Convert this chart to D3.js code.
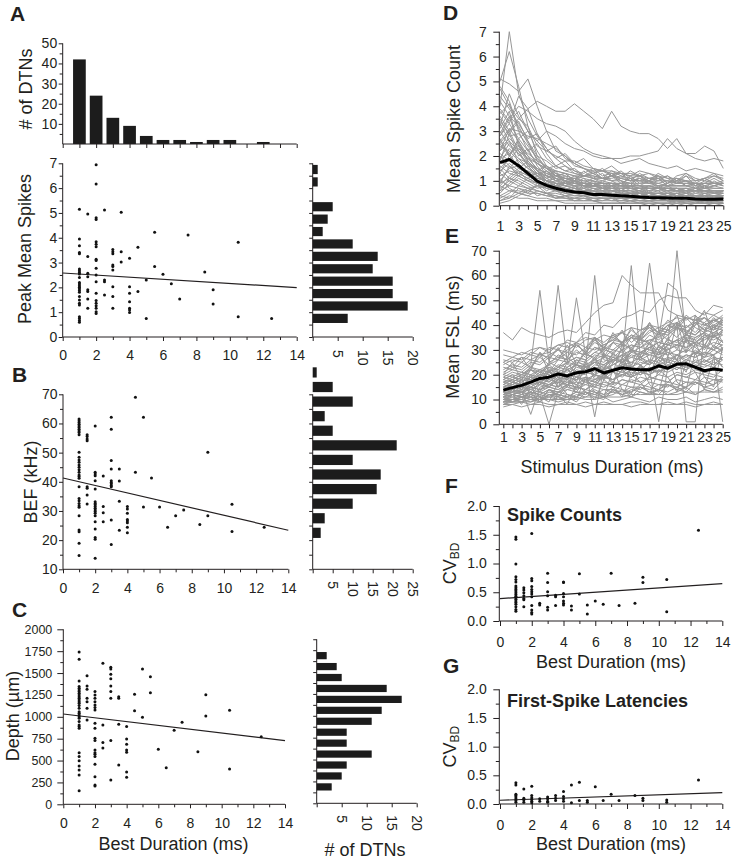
<!DOCTYPE html>
<html><head><meta charset="utf-8">
<script src="https://cdn.jsdelivr.net/npm/d3@7"></script>
<style>
body{margin:0;background:#fff;}
svg{display:block;font-family:"Liberation Sans",Arial,Helvetica,sans-serif;}
</style></head><body>
<svg id="fig" width="736" height="861"></svg>
<script>
// ---------------- DATA ----------------
// A: histogram of best durations
const bdBins = [1,2,3,4,5,6,7,8,9,10,11,12];
const bdCounts = [42,24,13,9,4,2,2,1,2,2,0,1];
// A: side histogram of peak mean spikes (bin centres)
const peakBins = [0.75,1.25,1.75,2.25,2.75,3.25,3.75,4.25,4.75,5.25,5.75,6.25,6.75];
const peakCounts = [7,19,16,16,12,13,8,2,3,4,0,1,1];
// B: side histogram of BEF
const befBins = [12.5,17.5,22.5,27.5,32.5,37.5,42.5,47.5,52.5,57.5,62.5,67.5];
const befCounts = [2,3,10,16,17,10,21,5,3,10,5,1];
// C: side histogram of depth
const depthBins = [187.5,312.5,437.5,562.5,687.5,812.5,937.5,1062.5,1187.5,1312.5,1437.5,1562.5,1687.5];
const depthCounts = [3,5,6,11,6,6,11,13,17,14,5,4,2];

// scatter data grouped by best duration: [duration, [values]]
const scatterA = [
 [1,[5.15,3.95,3.68,3.41,3.35,2.74,2.67,2.6,2.54,2.4,2.2,2.14,2.07,2.0,1.94,1.87,1.8,1.63,1.49,1.36,1.29,0.82,0.75,0.66,0.59]],
 [1.5,[4.96,3.24,2.57,2.43,1.9,1.83,1.53,1.16]],
 [2,[6.94,6.17,4.81,4.74,3.84,3.74,3.64,3.13,3.08,2.77,2.5,2.23,1.76,1.47,1.36,1.26,1.16,1.02,0.95]],
 [2.5,[5.12,2.3,2.23,1.69]],
 [3,[3.53,3.44,3.35,2.9,2.84,2.7,2.03,1.63,1.16]],
 [3.5,[5.03,3.44,3.02]],
 [4,[3.17,2.03,1.76,1.42,1.16,1.09,0.99]],
 [4.5,[3.62,1.83]],[5,[2.3,0.75]],[5.5,[4.22,2.84]],[6,[2.53]],[6.5,[2.15]],[7,[1.53]],
 [7.5,[4.11]],[8.5,[2.62]],[9,[1.9,1.33]],[10.5,[3.82,0.82]],[12.5,[0.75]]
];
const scatterB = [
 [1,[61.5,60.9,60.3,59.7,59.1,58.6,58,57.4,56.9,56.1,50.1,48.4,47.5,46.7,45.8,45,44.1,43.3,42.3,41.8,41.2,38.3,34.3,33.5,32.6,31.8,31.3,28.4,23.5,22.9,18.9,14.7]],
 [1.5,[56.1,55.5,54.7,54.1,38.3,37.8,35.5,32.4]],
 [2,[59.1,43.3,42.7,42.1,40.4,37.5,33.2,32.6,32.1,31.5,30.9,30.3,29.8,29.2,28.4,26.3,23.8,20.9,20.3,13.8]],
 [2.5,[42,31.5,29.4,26.3]],
 [3,[62.1,58,47.3,44.4,40.4,39.8,39.3,38.7,38.3,26.9,18.5]],
 [3.5,[44.4,40.3,33.3,23.4]],
 [4,[31.5,30.7,29.2,27.1,26.6,26,24.4,22.5]],
 [4.5,[69,43.3]],[5,[62.1,31.4]],[5.5,[41.3]],[6,[31.4]],[6.5,[24.4]],[7,[28.4]],
 [7.5,[30.3]],[8.5,[25.4]],[9,[50.1,28.4]],[10.5,[32.3,23]],[12.5,[24.4]]
];
const scatterC = [
 [1,[1741,1657,1410,1345,1326,1307,1288,1269,1250,1230,1211,1192,1173,1154,1128,1097,1059,1040,1021,1002,983,945,907,888,869,590,545,499,438,392,335,156]],
 [1.5,[1470,1352,1314,1211,1173,1097,964]],
 [2,[1288,1250,1211,1173,1135,1105,1078,926,869,754,728,621,590,571,545,457,316,221,210]],
 [2.5,[1611,907,705,644]],
 [3,[1566,1547,1486,1434,1352,1288,1211,728,278]],
 [3.5,[1230,1211,914,450]],
 [4,[888,747,686,621,594,370,309]],
 [4.5,[1257,1070]],[5,[1547,994]],[5.5,[1459,1276]],[6,[629]],[6.5,[419]],[7,[846]],
 [7.5,[937]],[8.5,[602]],[9,[1253,1010]],[10.5,[1074,404]],[12.5,[773]]
];
const scatterF = [
 [1,[1.46,1.42,0.99,0.77,0.72,0.68,0.61,0.58,0.55,0.52,0.49,0.46,0.43,0.41,0.38,0.35,0.32,0.29,0.25,0.2,0.17]],
 [1.5,[0.58,0.54,0.49,0.44,0.39,0.37,0.25]],
 [2,[1.52,0.74,0.7,0.6,0.55,0.51,0.47,0.42,0.27,0.19,0.15,0.12]],
 [2.5,[0.31,0.28]],
 [3,[0.83,0.67,0.51,0.44,0.24,0.19]],
 [3.5,[0.45,0.42,0.27]],
 [4,[0.68,0.67,0.48,0.42,0.35,0.31,0.28]],
 [4.5,[0.26,0.19]],[5,[0.82,0.47]],[5.5,[0.28,0.12]],[6,[0.35]],[6.5,[0.29]],[7,[0.83]],
 [7.5,[0.27]],[8.5,[0.31]],[9,[0.76,0.67]],[10.5,[0.72,0.16]],[12.5,[1.58]]
];
const scatterG = [
 [1,[0.37,0.33,0.17,0.15,0.12,0.09,0.06,0.03]],
 [1.5,[0.26,0.1,0.07,0.03]],
 [2,[0.31,0.15,0.11,0.08,0.05,0.02]],
 [2.5,[0.09,0.05]],
 [3,[0.12,0.09,0.05,0.03]],
 [3.5,[0.15,0.1,0.06]],
 [4,[0.22,0.13,0.09,0.05]],
 [4.5,[0.33,0.02]],[5,[0.38,0.06]],[5.5,[0.06,0.03]],[6,[0.3]],[6.5,[0.06]],[7,[0.17]],
 [7.5,[0.06]],[8.5,[0.15]],[9,[0.1,0.06]],[10.5,[0.07,0.03]],[12.5,[0.42]]
];
// regression line end points [[x0,y0],[x1,y1]]
const fitA = [[0,2.58],[14,1.99]];
const fitB = [[0,41.3],[14,23.4]];
const fitC = [[0,1032],[14,728]];
const fitF = [[0,0.39],[14,0.65]];
const fitG = [[0,0.065],[14,0.2]];

// D/E: stimulus durations and per-neuron curves
const stimDur = [1,2,3,4,5,6,7,8,9,10,11,12,13,14,15,16,17,18,19,20,21,22,23,24,25];
const meanSpikeCount = [1.73,1.86,1.61,1.3,0.99,0.82,0.7,0.61,0.55,0.52,0.45,0.45,0.42,0.4,0.38,0.35,0.33,0.32,0.31,0.3,0.3,0.27,0.26,0.26,0.27];
const meanFSL = [13.8,14.8,15.7,17,18.5,19,20.3,19.5,20.8,21.2,22.4,20.7,21.8,22.8,22.3,22,22,23.6,22.6,24.3,24.4,23,21.6,22.3,21.8];
const spikeCountCurves = [
 [2.5,3.0,3.5,3.9,4.2,4.0,3.8,3.8,4.1,3.8,3.5,3.1,3.8,3.2,3.0,2.9,2.9,2.7,2.3,2.7,2.1,2.1,2.4,2.2,1.5],
 [4.0,7.0,4.5,3.5,2.8,2.3,1.9,1.6,1.4,1.2,1.1,1.0,0.9,0.9,0.8,0.8,0.7,0.7,0.7,0.6,0.6,0.6,0.5,0.6,0.5],
 [5.0,6.2,4.8,3.2,2.0,1.5,1.2,1.0,0.9,0.8,0.8,0.7,0.6,0.6,0.6,0.5,0.5,0.5,0.5,0.4,0.4,0.4,0.4,0.4,0.3],
 [5.1,4.9,4.6,5.1,4.0,3.0,2.2,2.0,1.7,1.5,1.3,1.4,1.2,1.1,1.0,1.0,0.9,0.9,0.8,0.8,0.8,0.8,0.7,0.7,0.7],
 [2.8,3.5,4.0,3.8,3.5,3.3,3.2,3.0,2.6,2.3,2.1,2.0,1.9,1.9,2.0,2.0,2.1,2.2,2.7,2.3,2.1,1.9,1.8,1.9,1.8],
 [3.2,4.5,3.6,3.0,2.6,3.0,2.8,2.5,2.3,2.2,2.0,1.9,1.9,1.7,1.8,1.9,1.7,1.6,1.5,1.6,1.4,1.5,1.4,1.3,1.2],
 [4.7,4.0,3.5,3.2,2.4,2.2,2.0,1.8,1.8,1.6,1.5,1.4,1.4,1.3,1.3,1.2,1.3,1.2,1.1,1.1,1.0,1.0,1.1,0.9,0.9],
 [3.8,3.3,4.4,3.9,2.9,2.1,1.6,1.4,1.3,1.2,1.2,1.1,1.0,1.0,0.9,0.9,0.9,0.8,0.8,0.8,0.8,0.7,0.7,0.8,0.7],
 [2.6,3.1,3.0,2.8,2.7,2.5,2.3,2.0,1.6,1.5,1.4,1.4,1.3,1.3,1.2,1.2,1.1,1.1,1.0,1.0,1.0,0.9,0.9,0.9,0.9],
 [4.2,3.6,2.5,1.8,1.4,1.2,1.0,0.9,0.8,0.8,0.7,0.7,0.6,0.6,0.6,0.5,0.5,0.5,0.5,0.5,0.4,0.4,0.4,0.4,0.4],
 [3.5,2.8,2.9,2.4,1.9,1.5,1.3,1.2,1.1,1.0,0.9,0.9,0.9,0.8,0.8,0.8,0.7,0.7,0.7,0.7,0.6,0.6,0.6,0.6,0.6],
 [3.0,2.4,2.1,1.7,1.3,1.1,0.9,0.8,0.7,0.6,0.6,0.5,0.5,0.4,0.4,0.4,0.4,0.3,0.3,0.3,0.3,0.3,0.3,0.2,0.3],
 [2.2,3.1,2.6,2.0,1.4,1.0,0.8,0.7,0.6,0.5,0.5,0.4,0.4,0.4,0.3,0.3,0.3,0.3,0.3,0.2,0.2,0.2,0.2,0.2,0.2],
 [1.8,2.9,3.4,2.6,1.8,1.2,1.0,0.8,0.7,0.6,0.6,0.5,0.5,0.5,0.4,0.4,0.4,0.4,0.3,0.3,0.3,0.3,0.3,0.3,0.3],
 [2.4,2.2,1.8,1.5,1.2,1.0,0.8,0.7,0.6,0.5,0.5,0.5,0.4,0.4,0.4,0.3,0.3,0.3,0.3,0.3,0.3,0.2,0.2,0.2,0.2],
 [1.5,1.9,1.6,1.3,1.0,0.8,0.6,0.5,0.4,0.4,0.3,0.3,0.3,0.3,0.2,0.2,0.2,0.2,0.2,0.2,0.2,0.1,0.2,0.1,0.1],
 [1.2,1.4,1.3,1.1,0.9,0.7,0.6,0.5,0.5,0.4,0.4,0.3,0.3,0.3,0.3,0.2,0.2,0.2,0.2,0.2,0.2,0.2,0.2,0.2,0.2],
 [0.9,1.1,1.0,0.8,0.6,0.5,0.4,0.3,0.3,0.3,0.2,0.2,0.2,0.2,0.2,0.1,0.1,0.1,0.1,0.1,0.1,0.1,0.1,0.1,0.1],
 [0.6,0.8,0.7,0.6,0.5,0.4,0.3,0.3,0.2,0.2,0.2,0.1,0.1,0.1,0.1,0.1,0.1,0.1,0.1,0.0,0.1,0.0,0.0,0.1,0.0],
 [2.0,1.6,1.3,1.1,0.9,0.8,0.7,0.7,0.6,0.6,0.6,0.5,0.6,0.5,0.5,0.5,0.5,0.4,0.5,0.4,0.4,0.4,0.4,0.4,0.4],
 [1.0,1.5,1.9,1.7,1.3,1.0,0.9,0.8,0.7,0.7,0.6,0.6,0.6,0.5,0.5,0.5,0.5,0.5,0.4,0.4,0.4,0.4,0.4,0.4,0.4],
 [0.3,0.5,0.8,1.1,1.3,1.2,1.1,1.0,0.9,0.9,0.8,0.8,0.7,0.7,0.7,0.6,0.6,0.6,0.6,0.6,0.5,0.5,0.5,0.5,0.5],
 [0.1,0.2,0.4,0.6,0.8,0.9,1.0,1.1,1.1,1.2,1.2,1.1,1.1,1.2,1.1,1.0,1.1,1.0,1.0,0.9,0.9,0.9,0.9,0.9,0.9],
 [1.6,1.3,1.2,1.0,0.9,0.9,0.8,0.8,0.8,0.7,0.8,0.7,0.7,0.7,0.7,0.7,0.6,0.7,0.6,0.6,0.6,0.6,0.6,0.5,0.6],
 [2.7,2.0,1.5,1.3,1.1,1.0,0.9,0.9,0.9,0.8,0.8,0.8,0.8,0.7,0.7,0.7,0.7,0.7,0.7,0.7,0.6,0.6,0.6,0.6,0.6],
 [0.4,0.6,0.6,0.5,0.5,0.4,0.4,0.3,0.3,0.3,0.3,0.3,0.2,0.2,0.2,0.2,0.2,0.2,0.2,0.2,0.1,0.1,0.1,0.1,0.1],
 [2.9,3.6,3.2,2.5,1.9,1.5,1.2,1.0,0.9,0.8,0.7,0.6,0.6,0.5,0.5,0.5,0.4,0.4,0.4,0.4,0.3,0.3,0.3,0.3,0.3],
 [3.3,2.6,2.2,1.9,1.7,1.5,1.4,1.3,1.2,1.2,1.1,1.1,1.0,1.1,1.0,1.0,1.0,0.9,1.0,0.9,0.9,0.9,0.8,0.9,0.8],
 [1.3,1.0,0.8,0.7,0.6,0.5,0.5,0.4,0.4,0.4,0.3,0.3,0.3,0.3,0.3,0.3,0.2,0.3,0.2,0.2,0.2,0.2,0.2,0.2,0.2],
 [0.8,1.2,1.5,1.4,1.2,1.0,0.8,0.7,0.6,0.5,0.5,0.4,0.4,0.4,0.4,0.3,0.3,0.3,0.3,0.3,0.3,0.3,0.3,0.3,0.3],
 [0.2,0.4,0.3,0.3,0.2,0.2,0.2,0.1,0.1,0.1,0.1,0.1,0.1,0.1,0.1,0.1,0.0,0.1,0.0,0.0,0.0,0.0,0.0,0.0,0.0],
 [1.9,2.5,2.1,1.6,1.2,0.9,0.7,0.6,0.5,0.5,0.4,0.4,0.4,0.3,0.3,0.3,0.3,0.3,0.2,0.2,0.2,0.2,0.2,0.2,0.2],
 [3.9,3.4,3.8,3.0,2.2,1.6,1.3,1.1,1.0,0.9,0.8,0.7,0.7,0.6,0.6,0.6,0.5,0.5,0.5,0.5,0.5,0.4,0.4,0.4,0.4],
 [2.3,2.7,2.4,2.1,1.8,1.6,1.4,1.3,1.2,1.1,1.0,0.9,0.9,0.8,0.8,0.8,0.8,0.7,0.7,0.7,0.7,0.7,0.6,0.6,0.6],
 [0.5,0.9,1.2,1.0,0.8,0.7,0.6,0.6,0.5,0.5,0.5,0.4,0.4,0.4,0.4,0.4,0.4,0.4,0.3,0.3,0.3,0.3,0.3,0.3,0.3],
 [1.1,0.7,0.5,0.4,0.3,0.3,0.2,0.2,0.2,0.2,0.2,0.1,0.1,0.1,0.1,0.1,0.1,0.1,0.1,0.1,0.1,0.1,0.1,0.1,0.1],
 [2.1,1.8,2.3,1.9,1.5,1.3,1.1,1.0,1.0,0.9,0.9,0.9,0.8,0.8,0.8,0.7,0.8,0.7,0.7,0.7,0.7,0.6,0.7,0.6,0.6],
 [3.7,4.1,3.0,2.2,1.7,1.4,1.2,1.1,1.0,0.9,0.9,0.8,0.8,0.8,0.7,0.7,0.7,0.7,0.6,0.6,0.6,0.6,0.6,0.5,0.5],
 [1.4,1.7,1.4,1.2,1.1,1.0,0.9,0.9,0.8,0.8,0.8,0.8,0.7,0.8,0.7,0.7,0.7,0.7,0.7,0.6,0.7,0.6,0.6,0.6,0.6],
 [0.7,1.0,1.3,1.6,1.5,1.3,1.2,1.1,1.0,1.0,1.0,0.9,0.9,0.9,0.9,0.8,0.8,0.8,0.8,0.8,0.8,0.7,0.8,0.7,0.7],
 [1.7,2.3,1.9,1.5,1.3,1.4,1.0,1.2,0.9,1.1,0.8,1.0,1.2,0.9,1.1,0.8,1.0,0.7,0.9,1.1,0.8,0.9,0.7,1.0,0.8],
 [2.5,2.0,2.6,1.8,1.4,1.6,1.2,1.3,1.0,1.4,1.1,0.9,1.3,1.0,0.8,1.2,0.9,1.1,0.8,1.0,1.2,0.8,0.9,1.1,0.9],
 [0.9,1.6,1.2,1.4,1.0,0.7,0.9,0.6,0.8,0.5,0.7,0.6,0.4,0.7,0.5,0.6,0.4,0.5,0.6,0.4,0.5,0.3,0.5,0.4,0.5],
 [3.4,2.9,2.0,2.3,1.6,1.2,1.4,0.9,1.1,0.8,1.0,0.7,0.9,0.6,0.8,0.7,0.5,0.8,0.6,0.7,0.5,0.6,0.8,0.5,0.6],
 [1.3,2.0,2.7,2.2,2.5,1.9,1.6,1.8,1.4,1.3,1.5,1.2,1.3,1.1,1.4,1.2,1.0,1.3,1.1,0.9,1.2,1.0,1.1,1.3,1.0],
 [0.4,0.3,0.7,0.5,0.9,0.6,0.8,0.5,0.7,0.6,0.4,0.6,0.5,0.3,0.5,0.4,0.6,0.3,0.4,0.5,0.3,0.4,0.2,0.4,0.3],
 [4.4,3.9,3.3,2.7,2.9,2.3,1.9,2.1,1.7,1.5,1.3,1.5,1.2,1.4,1.1,1.2,1.0,1.2,0.9,1.1,1.0,0.9,1.1,0.9,1.0],
 [2.8,3.3,2.7,3.0,2.6,2.2,2.4,1.9,1.7,1.9,1.5,1.4,1.6,1.3,1.2,1.4,1.3,1.1,1.2,1.0,1.3,1.1,1.0,1.2,1.1],
 [0.6,1.1,0.9,0.7,0.8,0.5,0.6,0.4,0.5,0.6,0.4,0.5,0.3,0.4,0.5,0.3,0.4,0.3,0.2,0.4,0.3,0.2,0.3,0.2,0.3],
 [1.8,1.5,1.6,1.2,1.3,1.0,1.1,0.9,1.0,0.8,0.9,0.7,0.8,0.9,0.7,0.6,0.8,0.7,0.5,0.6,0.7,0.5,0.6,0.5,0.4],
 [2.2,2.6,1.7,1.3,0.9,0.8,0.9,0.6,0.7,0.5,0.6,0.4,0.5,0.4,0.3,0.5,0.4,0.3,0.4,0.3,0.2,0.3,0.4,0.2,0.3],
 [3.1,3.8,2.4,1.7,1.5,1.1,1.3,1.0,1.2,0.9,1.1,1.3,1.0,0.8,1.2,0.9,1.0,1.1,0.8,0.9,1.0,0.7,0.9,0.8,0.9],
 [0.2,0.3,0.5,0.4,0.6,0.5,0.3,0.4,0.2,0.3,0.2,0.2,0.3,0.1,0.2,0.1,0.2,0.1,0.1,0.2,0.1,0.1,0.1,0.1,0.1],
 [1.5,1.1,1.4,1.0,1.2,0.9,0.7,1.0,0.8,0.6,0.8,0.9,0.6,0.7,0.8,0.5,0.7,0.6,0.8,0.6,0.5,0.7,0.6,0.5,0.6],
 [4.8,4.2,3.1,2.6,2.0,1.8,1.5,1.6,1.3,1.2,1.4,1.1,1.2,1.0,0.9,1.1,1.0,0.8,0.9,1.0,0.8,0.9,0.7,0.8,0.9],
 [2.6,2.1,1.5,1.8,1.4,1.1,1.2,1.3,1.0,1.2,1.3,1.1,1.4,1.2,1.0,1.3,1.1,1.2,0.9,1.2,1.3,1.0,1.1,1.2,1.0],
 [1.0,0.8,1.1,0.9,0.7,0.8,0.6,0.7,0.5,0.6,0.7,0.5,0.4,0.6,0.5,0.4,0.5,0.3,0.4,0.5,0.4,0.3,0.4,0.3,0.4],
 [3.6,3.0,2.2,1.6,1.2,1.4,1.1,0.8,1.0,0.7,0.9,0.6,0.8,0.5,0.7,0.6,0.5,0.6,0.4,0.5,0.6,0.4,0.5,0.3,0.4],
 [1.9,2.1,2.4,2.0,1.7,1.5,1.6,1.4,1.5,1.2,1.3,1.1,1.2,1.3,1.0,1.1,0.9,1.0,1.2,0.9,1.0,0.8,1.0,0.9,0.8],
 [0.8,0.6,0.5,0.7,0.4,0.5,0.3,0.4,0.3,0.4,0.2,0.3,0.3,0.2,0.3,0.2,0.2,0.3,0.2,0.1,0.2,0.2,0.1,0.2,0.1]
];
const fslCurves = [
 [37,34,39,37,36,35,37,38,37,41,45,48,49,60,56,53,53,53,46,44,43,42,41,44,42],
 [24,26,25,28,27,31,30,34,33,37,36,40,39,43,44,46,45,50,52,51,51,46,44,48,47],
 [20,22,21,24,54,25,27,26,29,28,31,30,33,32,35,34,33,37,36,39,38,36,40,39,41],
 [18,20,19,23,21,24,56,25,27,26,29,28,27,30,32,31,33,30,34,33,36,34,37,35,38],
 [15,17,16,18,20,19,22,21,24,23,60,26,25,28,27,29,28,31,30,32,31,33,32,30,34],
 [12,14,13,16,17,16,19,18,21,20,23,22,24,26,64,27,25,29,28,30,29,32,31,33,32],
 [21,23,22,25,24,27,26,29,28,31,30,32,34,33,36,35,65,38,37,40,39,41,40,42,43],
 [16,18,17,20,19,22,21,23,25,24,26,25,28,27,30,29,31,33,32,70,34,33,36,35,37],
 [19,21,20,23,22,24,26,25,51,28,27,30,29,32,31,33,34,35,57,54,37,36,39,38,40],
 [10,11,12,13,12,0,13,14,15,14,16,15,17,16,18,17,19,18,17,20,19,21,20,19,22],
 [13,12,14,4,15,16,15,17,16,18,17,19,18,20,19,21,20,22,21,23,22,24,23,25,24],
 [14,15,16,17,18,19,18,20,21,22,3,23,22,24,25,24,26,25,27,26,28,27,29,28,30],
 [11,12,13,12,14,15,14,16,17,16,18,19,18,20,21,20,22,1,23,24,23,25,24,26,27],
 [17,18,20,19,22,21,24,23,26,25,28,27,30,29,32,31,34,33,36,40,1,1,38,37,39],
 [12,13,14,15,14,16,17,16,18,19,18,20,21,20,22,23,22,24,25,24,26,25,27,28,1],
 [8,8,9,8,9,8,8,9,8,9,8,9,8,8,9,9,8,8,9,8,9,8,8,9,8],
 [9,10,10,9,11,10,9,10,11,10,10,11,9,10,11,10,9,11,10,10,11,9,10,11,10],
 [10,12,11,12,11,13,12,11,13,12,14,12,13,12,14,13,12,14,13,15,13,12,14,13,15],
 [9,9,10,11,10,12,11,10,12,11,13,11,12,14,11,13,12,14,12,13,15,12,14,13,14],
 [7,8,7,8,8,7,8,8,8,7,8,8,8,8,7,8,8,8,8,8,8,7,8,8,8],
 [11,13,12,15,14,16,15,18,16,19,17,20,18,22,19,21,23,20,24,22,25,23,26,24,27],
 [13,14,16,15,18,17,20,19,22,21,24,23,26,25,28,27,30,29,32,31,34,33,36,35,38],
 [22,24,23,26,25,28,30,27,32,29,34,31,36,33,38,35,40,37,42,39,44,41,43,40,42],
 [26,25,27,26,28,29,27,30,32,29,33,31,35,33,36,34,38,36,40,39,37,41,38,40,39],
 [17,19,18,22,20,25,23,27,24,29,26,31,28,33,30,35,32,37,34,39,36,41,38,43,40],
 [15,16,18,17,20,19,21,20,23,22,25,24,27,26,29,28,31,30,33,32,35,34,30,36,33],
 [14,15,14,17,16,18,17,19,18,21,20,22,21,24,23,25,24,27,26,28,27,29,28,31,30],
 [12,13,15,14,16,15,18,17,19,18,20,19,22,21,23,22,25,24,26,25,28,27,29,28,31],
 [10,12,11,13,12,14,13,16,15,17,16,19,18,20,19,21,20,23,22,24,23,26,25,27,26],
 [16,15,17,19,18,21,20,22,24,23,25,27,26,28,30,29,31,33,32,34,36,35,37,39,38],
 [19,18,20,22,21,20,23,25,24,22,26,28,27,25,29,31,30,28,32,34,33,31,35,37,36],
 [11,12,11,13,12,14,13,15,14,16,15,17,16,18,17,19,18,20,19,21,20,22,21,23,22],
 [25,27,26,29,28,27,30,29,33,31,35,32,34,37,33,36,39,35,38,41,37,40,43,39,42],
 [9,10,11,10,12,11,13,12,11,14,13,12,15,14,13,16,15,14,17,16,15,18,17,16,19],
 [18,17,19,18,20,21,19,22,20,23,21,24,22,25,23,26,24,27,25,28,26,29,27,30,28],
 [28,27,29,28,31,30,32,31,33,35,34,36,35,37,39,38,40,39,41,43,42,44,40,42,41],
 [13,12,13,14,13,15,14,16,15,14,17,16,15,18,17,16,19,18,17,20,19,18,21,20,19],
 [20,19,21,20,22,21,23,22,24,23,25,24,26,25,27,26,28,27,29,28,30,29,31,30,32],
 [8,9,9,10,10,11,10,12,11,13,12,11,14,12,13,15,13,14,16,14,15,17,15,16,18],
 [23,22,25,23,27,24,28,26,30,27,31,29,33,30,35,32,36,34,38,35,40,37,41,38,43],
 [14,16,15,17,19,17,20,22,19,23,25,21,26,28,24,29,31,26,32,34,29,35,37,31,38],
 [10,10,11,11,10,12,12,11,13,13,12,14,14,13,15,15,14,16,16,15,17,17,16,18,18],
 [17,16,18,17,19,18,20,19,18,21,20,19,22,21,20,23,22,21,24,23,22,25,24,23,26],
 [12,14,13,15,17,16,18,20,19,21,23,22,24,26,25,27,29,28,30,32,31,33,35,34,36],
 [30,29,28,30,31,29,32,33,31,34,35,33,36,37,35,38,39,37,40,41,39,42,43,41,44],
 [9,9,9,9,10,10,10,10,10,11,11,11,11,11,12,12,12,12,12,12,13,13,13,13,13],
 [11,10,12,11,13,12,11,14,13,12,15,14,13,16,15,14,17,16,15,18,17,16,19,18,17],
 [15,17,19,18,21,23,22,25,27,26,29,31,30,33,35,34,37,39,38,41,43,42,45,44,46],
 [14,13,18,12,16,22,15,19,14,25,18,21,16,27,20,24,19,30,22,26,21,33,25,28,23],
 [9,12,8,15,11,9,17,12,10,19,13,11,22,14,12,24,16,13,27,17,14,29,19,15,31],
 [20,25,18,23,29,21,26,32,24,30,35,27,33,38,29,36,41,31,39,44,33,40,46,35,42],
 [12,11,10,13,9,14,12,8,16,13,10,18,15,11,20,17,12,22,19,13,25,21,14,27,23],
 [16,18,14,20,17,23,19,15,24,21,27,18,25,30,22,28,33,24,31,26,35,28,32,37,30],
 [10,9,11,10,9,12,10,11,9,13,11,10,14,12,11,15,13,12,16,14,13,17,15,14,18],
 [25,23,27,22,29,26,31,24,33,28,35,30,37,32,39,34,41,36,40,38,43,39,37,42,40],
 [13,17,15,19,16,21,18,25,20,23,27,22,29,24,31,26,33,28,35,30,37,32,34,36,33],
 [8,10,9,12,10,14,11,16,13,18,15,20,17,22,19,24,21,26,23,28,25,30,27,32,29],
 [18,20,16,22,19,24,21,18,26,23,20,28,25,22,30,27,24,32,29,26,34,31,28,36,33],
 [11,14,12,17,13,20,15,23,17,26,19,29,21,32,23,35,25,38,27,41,29,44,31,40,33],
 [15,14,16,13,17,15,18,16,19,17,20,18,21,19,22,20,23,21,24,22,25,23,26,24,27]
];

// tick values
const durAll = [0,1,2,3,4,5,6,7,8,9,10,11,12,13,14];
const durLabels = [0,2,4,6,8,10,12,14];
const stimLabels = [1,3,5,7,9,11,13,15,17,19,21,23,25];
const countTicks = [10,20,30,40,50], countMinor = [5,15,25,35,45];
const peakTicks = [0,1,2,3,4,5,6,7], peakMinor = [0.5,1.5,2.5,3.5,4.5,5.5,6.5];
const befTicks = [10,20,30,40,50,60,70], befMinor = [15,25,35,45,55,65];
const depthTicks = [0,250,500,750,1000,1250,1500,1750,2000], depthMinor = [125,375,625,875,1125,1375,1625,1875];
const spkTicks = [0,1,2,3,4,5,6,7], spkMinor = [0.5,1.5,2.5,3.5,4.5,5.5,6.5];
const fslTicks = [0,10,20,30,40,50,60,70], fslMinor = [5,15,25,35,45,55,65];
const cvTicks = [0,0.5,1,1.5,2], cvMinor = [0.25,0.75,1.25,1.75];
const histATicks = [5,10,15,20], histBTicks = [5,10,15,20,25], histCTicks = [5,10,15,20];
const peakBinEdges = [0,0.5,1,1.5,2,2.5,3,3.5,4,4.5,5,5.5,6,6.5,7];
const befBinEdges = [10,15,20,25,30,35,40,45,50,55,60,65,70];
const depthBinEdges = [0,125,250,375,500,625,750,875,1000,1125,1250,1375,1500,1625,1750,1875];

// ---------------- DRAWING ----------------
const INK = "#231f20", BAR = "#1c1c1c", GREY = "#979797";
const svg = d3.select("#fig");

function ax(gen, tx, ty, fs) {
  const g = svg.append("g").attr("transform", `translate(${tx},${ty})`).call(gen);
  g.select(".domain").remove();
  g.selectAll(".tick line").attr("stroke", INK).attr("stroke-width", 1);
  g.selectAll(".tick text").attr("fill", INK).style("font-size", (fs || 14) + "px");
  return g;
}
function seg(x1, y1, x2, y2, w, col) {
  svg.append("line").attr("x1", x1).attr("y1", y1).attr("x2", x2).attr("y2", y2)
    .attr("stroke", col || INK).attr("stroke-width", w || 1).attr("stroke-linecap", "butt");
}
function leftAxis(y, x, major, minor, fmt, majLen, minLen, pad, fs) {
  if (minor) ax(d3.axisLeft(y).tickValues(minor).tickSize(minLen).tickFormat(""), x, 0);
  ax(d3.axisLeft(y).tickValues(major).tickSize(majLen).tickPadding(pad).tickFormat(fmt || (d => d)), x, 0, fs);
}
function bottomAxis(xs, y, major, minor, fmt, majLen, minLen, pad, fs) {
  if (minor) ax(d3.axisBottom(xs).tickValues(minor).tickSize(minLen).tickFormat(""), 0, y);
  return ax(d3.axisBottom(xs).tickValues(major).tickSize(majLen).tickPadding(pad).tickFormat(fmt || (d => d)), 0, y, fs);
}
function text(str, x, y, fs, opts) {
  opts = opts || {};
  return svg.append("text").attr("x", x).attr("y", y).attr("fill", INK)
    .style("font-size", fs + "px").attr("text-anchor", opts.anchor || "start")
    .attr("font-weight", opts.bold ? "bold" : "normal").text(str);
}
function vtext(str, x, y, fs) {
  return svg.append("text").attr("transform", `translate(${x},${y}) rotate(-90)`)
    .attr("text-anchor", "middle").attr("fill", INK).style("font-size", fs + "px").text(str);
}
function dots(data, xs, ys) {
  const pts = data.flatMap(([d, vals]) => vals.map(v => [d, v]));
  svg.append("g").selectAll("circle").data(pts).join("circle")
    .attr("cx", d => xs(d[0])).attr("cy", d => ys(d[1])).attr("r", 1.5).attr("fill", "#111");
}
function fit(f, xs, ys) { seg(xs(f[0][0]), ys(f[0][1]), xs(f[1][0]), ys(f[1][1]), 1.2); }
function sideHist(bins, counts, ys, xs, binW, frac) {
  const h = Math.abs(ys(0) - ys(binW)) * frac;
  svg.append("g").selectAll("rect").data(bins.map((b, i) => [b, counts[i]])).join("rect")
    .attr("x", xs(0)).attr("y", d => ys(d[0]) - h / 2)
    .attr("width", d => xs(d[1]) - xs(0)).attr("height", h).attr("fill", BAR);
}
function sideXAxis(xs, y, ticks, off) {
  const g = ax(d3.axisBottom(xs).tickValues([0].concat(ticks)).tickSize(4).tickFormat(d => d === 0 ? "" : d), 0, y, 14);
  g.selectAll(".tick text").attr("transform", "rotate(90)").attr("text-anchor", "start")
    .attr("x", off).attr("y", 0).attr("dy", "0.35em");
  seg(xs.range()[0], y, xs.range()[1], y);
}

// ===== Panel A =====
const xA = d3.scaleLinear([0, 14], [62.7, 296.7]);
const yAh = d3.scaleLinear([0, 50], [144, 43.3]);
const yA = d3.scaleLinear([0, 7], [337, 163.3]);
const xAs = d3.scaleLinear([0, 20], [312.7, 412.7]);

const bwA = (xA(1) - xA(0)) * 0.76;
svg.append("g").selectAll("rect").data(bdBins.map((b, i) => [b, bdCounts[i]])).join("rect")
  .attr("x", d => xA(d[0]) - bwA / 2).attr("y", d => yAh(d[1]))
  .attr("width", bwA).attr("height", d => yAh(0) - yAh(d[1])).attr("fill", BAR);
leftAxis(yAh, 62.7, countTicks, countMinor, null, 4, 3, 1.5, 14);
seg(62.7, yAh(0), 62.7, yAh(50));
ax(d3.axisBottom(xA).tickValues(durAll).tickSize(4).tickFormat(""), 0, yAh(0));
seg(xA(0), yAh(0), xA(14), yAh(0));
vtext("# of DTNs", 31.5, 89, 18);

leftAxis(yA, 62.7, peakTicks, peakMinor, null, 4, 3, 1.5, 14);
seg(62.7, yA(0), 62.7, yA(7));
bottomAxis(xA, yA(0), durLabels, durAll.filter(d => d % 2), null, 4, 3, 9, 14);
seg(xA(0), yA(0), xA(14), yA(0));
fit(fitA, xA, yA);
dots(scatterA, xA, yA);
vtext("Peak Mean Spikes", 31, 249, 18);

sideHist(peakBins, peakCounts, yA, xAs, 0.5, 0.74);
ax(d3.axisLeft(yA).tickValues(peakBinEdges).tickSize(3.5).tickFormat(""), 312.7, 0);
seg(312.7, yA(0), 312.7, yA(7));
sideXAxis(xAs, yA(0), histATicks, 13);

// ===== Panel B =====
const xB = d3.scaleLinear([0, 14], [63, 288.3]);
const yB = d3.scaleLinear([10, 70], [569.3, 394.3]);
const xBs = d3.scaleLinear([0, 25], [312.7, 412.7]);
leftAxis(yB, 63, befTicks, befMinor, null, 4, 3, 1.5, 14);
seg(63, yB(10), 63, yB(70));
bottomAxis(xB, yB(10), durLabels, durAll.filter(d => d % 2), null, 4, 3, 9.8, 14);
seg(xB(0), yB(10), xB(14), yB(10));
fit(fitB, xB, yB);
dots(scatterB, xB, yB);
vtext("BEF (kHz)", 37, 482, 18);
sideHist(befBins, befCounts, d => yB(d + 10), xBs, 5, 0.7);
ax(d3.axisLeft(yB).tickValues(befBinEdges).tickSize(3.5).tickFormat(""), 312.7, 0);
seg(312.7, yB(10), 312.7, yB(70));
sideXAxis(xBs, yB(10), histBTicks, 12);

// ===== Panel C =====
const xC = d3.scaleLinear([0, 14], [63.3, 285]);
const yC = d3.scaleLinear([0, 2000], [804.3, 629.3]);
const xCs = d3.scaleLinear([0, 20], [316.7, 416.7]);
leftAxis(yC, 63.3, depthTicks, depthMinor, null, 6, 3, 5, 12.5);
seg(63.3, yC(0), 63.3, yC(2000));
bottomAxis(xC, yC(0), durLabels, durAll.filter(d => d % 2), null, 4, 3, 9.8, 14);
seg(xC(0), yC(0), xC(14), yC(0));
fit(fitC, xC, yC);
dots(scatterC, xC, yC);
vtext("Depth (µm)", 19, 716, 18);
text("Best Duration (ms)", 173.5, 850, 18, {anchor: "middle"});
sideHist(depthBins, depthCounts, d => yC(d) - 1, xCs, 125, 0.66);
ax(d3.axisLeft(yC).tickValues(depthBinEdges).tickSize(3.5).tickFormat(""), 316.7, -1);
seg(316.7, yC(0) - 1, 316.7, yC(1875) - 1);
sideXAxis(xCs, yC(0) - 1, histCTicks, 12);
text("# of DTNs", 365, 855.5, 18, {anchor: "middle"});

// ===== Panel D =====
const xD = d3.scaleLinear([1, 25], [500, 723.3]);
const yD = d3.scaleLinear([0, 7], [205.7, 31.7]);
const lnD = d3.line().x((d, i) => xD(stimDur[i])).y(d => yD(d));
svg.append("g").selectAll("path").data(spikeCountCurves).join("path")
  .attr("d", lnD).attr("fill", "none").attr("stroke", GREY).attr("stroke-width", 1);
svg.append("path").attr("d", lnD(meanSpikeCount)).attr("fill", "none")
  .attr("stroke", "#000").attr("stroke-width", 3).attr("stroke-linejoin", "round");
leftAxis(yD, 499.3, spkTicks, spkMinor, null, 6, 3.5, 6.6, 14);
seg(499.3, yD(0), 499.3, yD(7));
bottomAxis(xD, yD(0), stimLabels, stimDur.filter(d => d % 2 === 0), null, 4, 4, 11, 14);
seg(499.3, yD(0), xD(25), yD(0));
vtext("Mean Spike Count", 460, 119, 18);

// ===== Panel E =====
const xE = d3.scaleLinear([1, 25], [503.3, 722.7]);
const yE = d3.scaleLinear([0, 70], [424.3, 250.7]);
const lnE = d3.line().x((d, i) => xE(stimDur[i])).y(d => yE(d));
svg.append("g").selectAll("path").data(fslCurves).join("path")
  .attr("d", lnE).attr("fill", "none").attr("stroke", GREY).attr("stroke-width", 1);
svg.append("path").attr("d", lnE(meanFSL)).attr("fill", "none")
  .attr("stroke", "#000").attr("stroke-width", 3).attr("stroke-linejoin", "round");
leftAxis(yE, 499.3, fslTicks, fslMinor, null, 6, 3.5, 6.6, 14);
seg(499.3, yE(0), 499.3, yE(70));
bottomAxis(xE, yE(0), stimLabels, stimDur.filter(d => d % 2 === 0), null, 4, 4, 3.5, 14);
seg(499.3, yE(0), xE(25), yE(0));
vtext("Mean FSL (ms)", 459, 337, 18);
text("Stimulus Duration (ms)", 612, 473, 18, {anchor: "middle"});

// ===== Panels F & G =====
function cvPanel(data, f, ys, title, titleY, xlabY) {
  const xs = d3.scaleLinear([0, 14], [500, 722.3]);
  leftAxis(ys, 499.3, cvTicks, cvMinor, d3.format(".1f"), 6, 3.5, 6.6, 14);
  seg(499.3, ys(0), 499.3, ys(2));
  bottomAxis(xs, ys(0), durLabels, durAll.filter(d => d % 2), null, 5, 3, 11, 14);
  seg(499.3, ys(0), xs(14), ys(0));
  fit(f, xs, ys);
  dots(data, xs, ys);
  text(title, 507, titleY, 18, {bold: true});
  const t = svg.append("text").attr("transform", `translate(456,${(ys(0) + ys(2)) / 2}) rotate(-90)`)
    .attr("text-anchor", "middle").attr("fill", INK).style("font-size", "18px");
  t.append("tspan").text("CV");
  t.append("tspan").attr("dy", 3).style("font-size", "12px").text("BD");
  text("Best Duration (ms)", 611, xlabY, 18, {anchor: "middle"});
}
const yF = d3.scaleLinear([0, 2], [621, 506]);
const yG = d3.scaleLinear([0, 2], [804, 689.3]);
cvPanel(scatterF, fitF, yF, "Spike Counts", 521, 668);
cvPanel(scatterG, fitG, yG, "First-Spike Latencies", 707, 850);

// panel letters
[["A",10,21],["B",12,382],["C",12,617],["D",443,20],["E",445,243],["F",445,493],["G",443,673]]
  .forEach(([l, x, y]) => text(l, x, y, 21, {bold: true}));
</script>
</body></html>
